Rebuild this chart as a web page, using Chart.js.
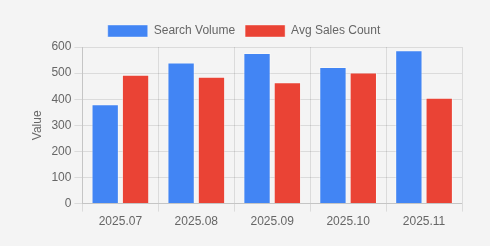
<!DOCTYPE html>
<html>
<head>
<meta charset="utf-8">
<script src="https://cdn.jsdelivr.net/npm/chart.js@4"></script>
<style>
  html, body { margin: 0; padding: 0; background: #f4f4f4; }
  #wrap { width: 490px; height: 246px; position: relative; }
</style>
</head>
<body>
<div id="wrap"><canvas id="trendChart"></canvas></div>
<script>
// ===== Data =====
const months = ["2025.07", "2025.08", "2025.09", "2025.10", "2025.11"];
const searchVolume = [381, 541, 577, 523, 588];
const avgSalesCount = [494, 486, 465, 502, 406];

// ===== Chart =====
const ctx = document.getElementById("trendChart").getContext("2d");
new Chart(ctx, {
  type: "bar",
  data: {
    labels: months,
    datasets: [
      {
        label: "Search Volume",
        data: searchVolume,
        backgroundColor: "#4285f4",
        borderColor: "rgba(255,255,255,0.4)",
        borderWidth: 1
      },
      {
        label: "Avg Sales Count",
        data: avgSalesCount,
        backgroundColor: "#ea4335",
        borderColor: "rgba(255,255,255,0.4)",
        borderWidth: 1
      }
    ]
  },
  options: {
    responsive: true,
    maintainAspectRatio: false,
    animation: false,
    layout: { padding: { left: 26, right: 28, top: 15, bottom: 14 } },
    plugins: {
      legend: {
        position: "top",
        labels: { color: "#666", font: { size: 12 } }
      },
      tooltip: { enabled: false }
    },
    scales: {
      x: {
        ticks: { color: "#666", font: { size: 12 } }
      },
      y: {
        beginAtZero: true,
        max: 600,
        ticks: { stepSize: 100, color: "#666", font: { size: 12 } },
        title: { display: true, text: "Value", color: "#666", font: { size: 12 } }
      }
    }
  }
});
</script>
</body>
</html>
